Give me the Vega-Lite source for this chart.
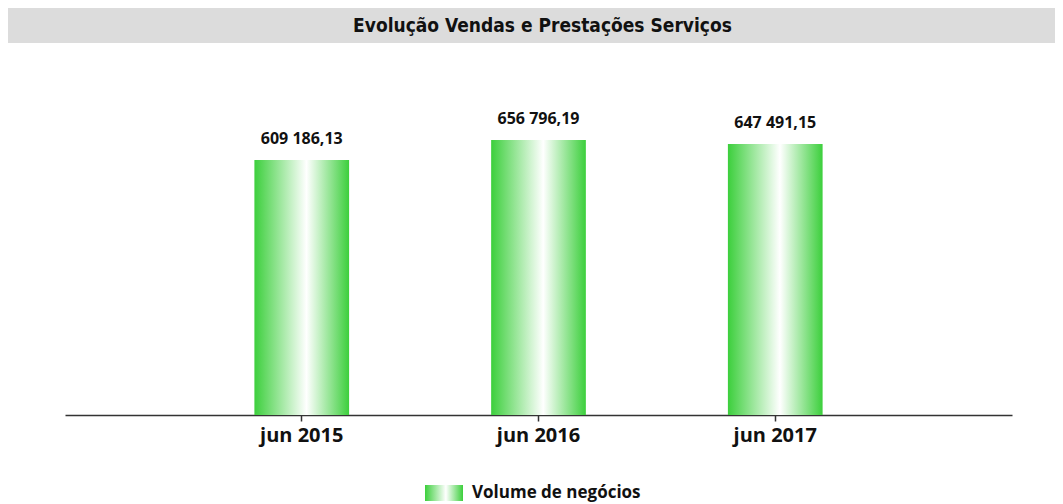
{
  "$schema": "https://vega.github.io/schema/vega-lite/v6.json",
  "padding": {"left": 8, "top": 8, "right": 8, "bottom": 56},
  "background": "white",
  "config": {
    "locale": {"number": {"decimal": ",", "thousands": " ", "grouping": [3], "currency": ["", " €"]}},
    "concat": {"spacing": 58},
    "view": {"stroke": null}
  },
  "vconcat": [
    {
      "width": 1047,
      "height": 35,
      "view": {"fill": "#dcdcdc", "stroke": null},
      "data": {"values": [{"t": "Evolução Vendas e Prestações Serviços"}]},
      "mark": {"type": "text", "font": "DejaVu Sans Condensed, Open Sans, sans-serif", "fontSize": 19, "fontWeight": "bold", "color": "#111111", "baseline": "middle", "align": "center", "dx": 11},
      "encoding": {"text": {"field": "t", "type": "nominal"}}
    },
    {
      "width": 1047,
      "height": 314,
      "data": {"values": [
        {"periodo": "jun 2015", "valor": 609186.13},
        {"periodo": "jun 2016", "valor": 656796.19},
        {"periodo": "jun 2017", "valor": 647491.15}
      ]},
      "encoding": {
        "x": {
          "field": "periodo", "type": "nominal", "sort": null,
          "scale": {"range": [57, 1004], "paddingInner": 0.6, "paddingOuter": 0.8},
          "axis": {"title": null, "labelAngle": 0, "labelFont": "Open Sans", "labelFontWeight": "bold", "labelFontSize": 20, "labelColor": "#111111", "labelPadding": 4, "domainColor": "#333333", "domainWidth": 1.5, "tickColor": "#333333", "tickWidth": 1.5, "tickSize": 6, "grid": false}
        },
        "y": {
          "field": "valor", "type": "quantitative",
          "scale": {"domain": [0, 750000], "nice": false},
          "axis": null
        }
      },
      "layer": [
        {
          "mark": {"type": "bar", "fill": {"gradient": "linear", "x1": 0, "x2": 1, "y1": 0, "y2": 0, "stops": [{"offset": 0, "color": "#3ccf3c"}, {"offset": 0.55, "color": "#ffffff"}, {"offset": 1, "color": "#3ccf3c"}]}},
          "encoding": {
            "opacity": {"datum": "Volume de negócios", "type": "ordinal", "scale": {"range": [1, 1]},
              "legend": {
                "title": null, "orient": "none", "legendX": 417, "legendY": 466,
                "symbolType": "M-1,-0.42H1V0.42H-1Z", "symbolSize": 1444, "symbolStrokeWidth": 0,
                "symbolFillColor": {"gradient": "linear", "x1": 0, "x2": 1, "y1": 0, "y2": 0, "stops": [{"offset": 0, "color": "#3ccf3c"}, {"offset": 0.55, "color": "#ffffff"}, {"offset": 1, "color": "#3ccf3c"}]},
                "labelFont": "Open Sans", "labelFontWeight": "bold", "labelFontSize": 17, "labelColor": "#111111", "labelOffset": 9, "labelLimit": 400
              }
            }
          }
        },
        {
          "mark": {"type": "text", "font": "Open Sans", "fontWeight": "bold", "fontSize": 16, "color": "#111111", "baseline": "bottom", "dy": -13},
          "encoding": {
            "text": {"field": "valor", "type": "quantitative", "format": ",.2f"}
          }
        }
      ]
    }
  ]
}
